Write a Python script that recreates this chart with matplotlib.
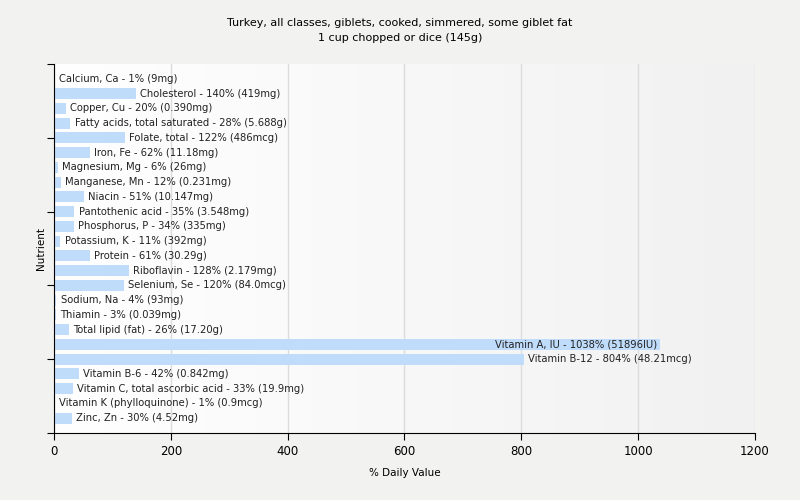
import numpy as np
import matplotlib.pyplot as plt

nutrients = [
    'Calcium, Ca', 'Cholesterol', 'Copper, Cu', 'Fatty acids, total saturated',
    'Folate, total', 'Iron, Fe', 'Magnesium, Mg', 'Manganese, Mn', 'Niacin',
    'Pantothenic acid', 'Phosphorus, P', 'Potassium, K', 'Protein', 'Riboflavin',
    'Selenium, Se', 'Sodium, Na', 'Thiamin', 'Total lipid (fat)', 'Vitamin A, IU',
    'Vitamin B-12', 'Vitamin B-6', 'Vitamin C, total ascorbic acid',
    'Vitamin K (phylloquinone)', 'Zinc, Zn',
]
daily_pct = [1, 140, 20, 28, 122, 62, 6, 12, 51, 35, 34, 11, 61, 128, 120, 4, 3,
             26, 1038, 804, 42, 33, 1, 30]
amounts = ['9mg', '419mg', '0.390mg', '5.688g', '486mcg', '11.18mg', '26mg',
           '0.231mg', '10.147mg', '3.548mg', '335mg', '392mg', '30.29g', '2.179mg',
           '84.0mcg', '93mg', '0.039mg', '17.20g', '51896IU', '48.21mcg', '0.842mg',
           '19.9mg', '0.9mcg', '4.52mg']

bg = '#f2f2f1'
fig = plt.figure(figsize=(8, 5), dpi=100, facecolor=bg)
ax = fig.add_axes([0.0675, 0.134, 0.876, 0.738])

# white-to-grey gradient behind the bars
grad = np.linspace(0, 1, 256).reshape(1, -1)
ax.imshow(grad, cmap=plt.matplotlib.colors.LinearSegmentedColormap.from_list(
    'bg', ['#ffffff', '#f1f1f1']), aspect='auto', extent=[0, 1, 0, 1],
    transform=ax.transAxes, zorder=0)

y = np.arange(len(nutrients))
ax.barh(y, daily_pct, height=0.75, color='#c0dcfb', zorder=2)

for yi, name, v, amt in zip(y, nutrients, daily_pct, amounts):
    label = f'{name} - {v}% ({amt})'
    if v > 900:
        ax.annotate(label, (v, yi), xytext=(-2, 0), textcoords='offset points',
                    ha='right', va='center', fontsize=7.2, color='#222222', zorder=3)
    else:
        ax.annotate(label, (v, yi), xytext=(3, 0), textcoords='offset points',
                    ha='left', va='center', fontsize=7.2, color='#222222', zorder=3)

ax.set_xlim(0, 1200)
ax.set_ylim(24, -1)
ax.set_xticks([0, 200, 400, 600, 800, 1000, 1200])
ax.set_yticks([-1, 4, 9, 14, 19, 24])
ax.set_yticklabels([])
ax.grid(axis='x', color='#dcdcdc', linewidth=1, zorder=1)
ax.set_axisbelow(True)
for s in ('top', 'right'):
    ax.spines[s].set_visible(False)
ax.tick_params(axis='both', direction='out', length=5, labelsize=8.5)
ax.set_xlabel('% Daily Value', fontsize=7.5, labelpad=7)
ax.set_ylabel('Nutrient', fontsize=7.5, labelpad=-3)

fig.suptitle('Turkey, all classes, giblets, cooked, simmered, some giblet fat\n'
             '1 cup chopped or dice (145g)', fontsize=8, y=0.965, linespacing=1.7)

fig.savefig('out.png', dpi=100, facecolor=bg)
